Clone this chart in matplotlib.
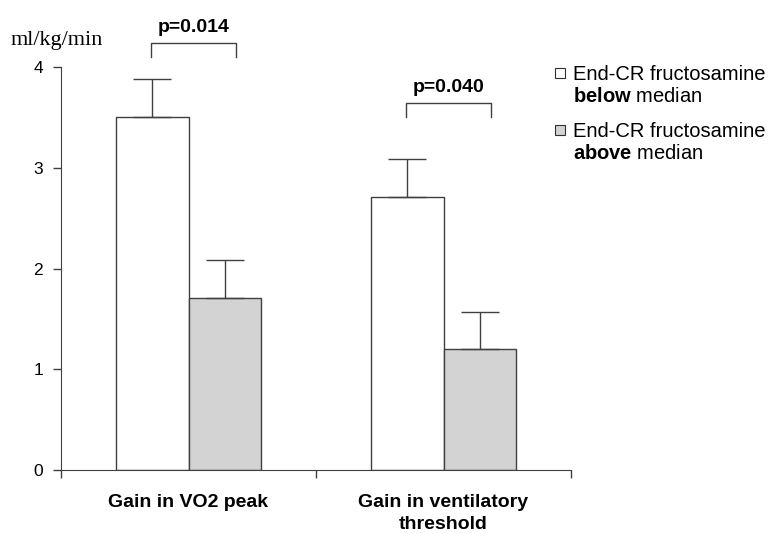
import numpy as np
import matplotlib
matplotlib.use("Agg")
import matplotlib.pyplot as plt
from matplotlib.patches import Rectangle

plt.rcParams['font.family'] = ['Liberation Sans', 'DejaVu Sans']
plt.rcParams['mathtext.fontset'] = 'custom'
plt.rcParams['mathtext.bf'] = 'Liberation Sans:bold'
plt.rcParams['mathtext.rm'] = 'Liberation Sans'

categories = ['Gain in VO2 peak', 'Gain in ventilatory\nthreshold']
below_vals = [3.5, 2.71]
below_err = [0.38, 0.38]
above_vals = [1.71, 1.2]
above_err = [0.37, 0.37]
p_values = ['p=0.014', 'p=0.040']
bracket_y = [4.238, 3.643]   # height of each p-value bracket, in data units
yticks = [0, 1, 2, 3, 4]

edge = '#404040'
fill_above = '#d3d3d3'

W, H = 771, 534
fig = plt.figure(figsize=(W / 100, H / 100), dpi=100)
ax = fig.add_axes([61 / W, 1 - 470 / H, 510 / W, 403 / H])

x = np.arange(len(categories))
w = 0.286
ax.bar(x - w / 2, below_vals, w, color='white', edgecolor=edge, linewidth=1)
ax.bar(x + w / 2, above_vals, w, color=fill_above, edgecolor=edge, linewidth=1)
# upward-only error bars
ax.errorbar(x - w / 2, below_vals, yerr=[np.zeros(2), below_err], fmt='none',
            ecolor=edge, elinewidth=1, capsize=14, capthick=1)
ax.errorbar(x + w / 2, above_vals, yerr=[np.zeros(2), above_err], fmt='none',
            ecolor=edge, elinewidth=1, capsize=14, capthick=1)

# significance brackets
for i, (p, by) in enumerate(zip(p_values, bracket_y)):
    x0, x1 = x[i] - 0.148, x[i] + 0.188
    ax.plot([x0, x0, x1, x1], [by - 0.139, by, by, by - 0.139], color=edge,
            lw=1, clip_on=False)
    ax.text((x0 + x1) / 2, by + 0.109, p, ha='center', va='baseline',
            fontsize=14, fontweight='bold', clip_on=False)

ax.set_xlim(-0.5, 1.5)
ax.set_ylim(0, 4)
ax.set_yticks(yticks)
ax.set_xticks([-0.5, 0.5, 1.5])
ax.set_xticklabels([])
ax.set_xticks(x, minor=True)
ax.set_xticklabels(categories, minor=True, fontsize=14, fontweight='bold',
                   linespacing=1.45)
ax.tick_params(axis='x', which='minor', length=0, pad=17)
ax.tick_params(axis='x', which='major', length=6, color=edge, width=1)
ax.tick_params(axis='y', length=6, color=edge, width=1, labelsize=12.5, pad=7)
ax.spines['top'].set_visible(False)
ax.spines['right'].set_visible(False)
ax.spines['left'].set_color(edge)
ax.spines['bottom'].set_color(edge)

fig.text(11 / W, 1 - 45 / H, 'ml/kg/min', family='Liberation Serif',
         fontsize=16, va='baseline', ha='left')

# legend, drawn line by line
leg_lines = [['End-CR fructosamine', '$\\bf{below}$ median'],
             ['End-CR fructosamine', '$\\bf{above}$ median']]
leg_colors = ['white', fill_above]
leg_box_top = [68, 125]
leg_baselines = [[80, 102], [137, 159]]
for lines, col, bt, bls in zip(leg_lines, leg_colors, leg_box_top, leg_baselines):
    fig.patches.append(Rectangle((555 / W, 1 - (bt + 10) / H), 10 / W, 10 / H,
                                 transform=fig.transFigure, facecolor=col,
                                 edgecolor='#303030', lw=0.8))
    for txt, bl in zip(lines, bls):
        fig.text(573 / W, 1 - bl / H, txt, fontsize=14.5, va='baseline',
                 ha='left')

fig.savefig('out.png', dpi=100)
